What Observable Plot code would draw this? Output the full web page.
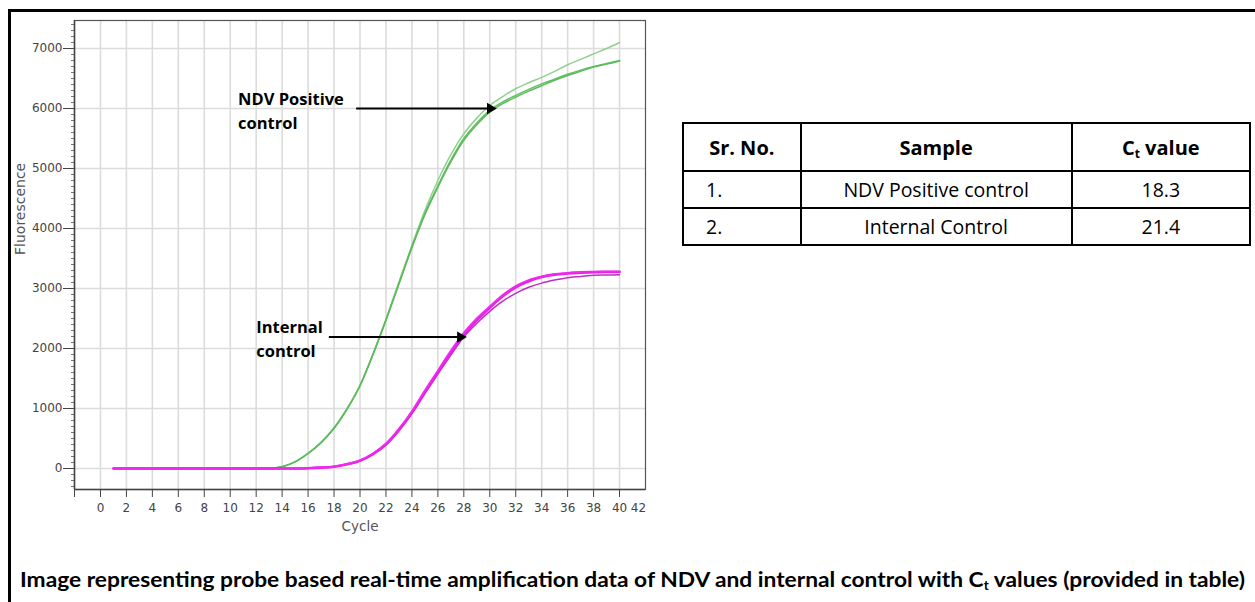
<!DOCTYPE html>
<html>
<head>
<meta charset="utf-8">
<script src="https://cdn.jsdelivr.net/npm/d3@7"></script>
<script src="https://cdn.jsdelivr.net/npm/@observablehq/plot@0.6"></script>
<style>
  html, body { margin: 0; padding: 0; background: #fff; }
  #wrap { position: relative; width: 1255px; height: 602px; overflow: hidden; background: #fff; }
  #chart { position: absolute; left: 0; top: 0; }
  #box { position: absolute; left: 8px; top: 9px; width: 1300px; height: 700px;
         border-top: 3px solid #000; border-left: 3px solid #000; pointer-events: none; }
  table#ct { position: absolute; left: 682px; top: 122px; width: 569px; border-collapse: collapse;
             font-family: "Open Sans", Lato, sans-serif; color: #000; }
  table#ct td, table#ct th { border: 2px solid #000; padding: 0; }
  table#ct th { font-weight: bold; font-size: 20px; height: 46px; text-align: center; }
  table#ct td { font-size: 19.5px; height: 35px; text-align: center; }
  table#ct td.sr { text-align: left; padding-left: 22px; }
  sub { font-size: 0.6em; vertical-align: -0.25em; line-height: 0; }
  #caption { position: absolute; left: 20px; top: 566px; white-space: nowrap; font-family: Lato, sans-serif;
             font-weight: bold; font-size: 21px; transform-origin: 0 0; color: #000; }
</style>
</head>
<body>
<div id="wrap">
  <div id="chart"></div>
  <table id="ct">
    <colgroup><col style="width:118px"><col style="width:272px"><col style="width:179px"></colgroup>
    <tbody id="tbody"></tbody>
  </table>
  <div id="caption"></div>
  <div id="box"></div>
</div>
<script>
// ---- data ----
const cycles = d3.range(1, 41);

const ndvRep1 = [0,0,0,0,0,0,0,0,0,0,0,0,0,30,110,250,430,670,990,1380,1900,2470,3080,3680,4230,4690,5110,5470,5730,5940,6080,6190,6290,6380,6470,6550,6620,6690,6740,6790];
const ndvRep2 = [0,0,0,0,0,0,0,0,0,0,0,0,0,30,110,250,430,670,990,1380,1900,2470,3080,3690,4250,4710,5140,5500,5760,5970,6110,6220,6320,6410,6490,6570,6640,6700,6750,6800];
const ndvRep3 = [0,0,0,0,0,0,0,0,0,0,0,0,0,30,115,255,440,680,1000,1390,1910,2490,3110,3720,4300,4800,5230,5580,5840,6050,6200,6330,6430,6520,6620,6730,6820,6910,7000,7100];

const icRep1 = [0,0,0,0,0,0,0,0,0,0,0,0,0,0,0,5,15,30,70,130,240,400,640,930,1270,1600,1930,2230,2470,2680,2870,3020,3120,3190,3230,3250,3265,3270,3275,3275];
const icRep2 = [0,0,0,0,0,0,0,0,0,0,0,0,0,0,0,5,15,32,75,135,250,415,660,955,1300,1630,1960,2260,2500,2700,2890,3040,3140,3200,3240,3260,3275,3280,3285,3285];
const icRep3 = [0,0,0,0,0,0,0,0,0,0,0,0,0,0,0,5,15,30,70,130,240,400,635,920,1250,1575,1890,2190,2420,2620,2790,2920,3020,3090,3140,3180,3200,3220,3225,3230];

const xTicks = d3.range(-2, 41, 2);
const yTicks = d3.range(0, 7001, 1000);
const yMinor = d3.range(-300, 7401, 100);

const annotations = [
  {label: "NDV Positive\ncontrol", tx: 10.6, ty: 5992, x1: 19.7, x2: 30.5, y: 6000},
  {label: "Internal\ncontrol",     tx: 12.0, ty: 2192, x1: 17.6, x2: 28.2, y: 2190}
];

const tableHead = ["Sr. No.", "Sample", "C<sub>t</sub> value"];
const tableSr = ["1.", "2."];
const tableSample = ["NDV Positive control", "Internal Control"];
const tableCt = ["18.3", "21.4"];

const captionText = "Image representing probe based real-time amplification data of NDV and internal control with C<sub>t</sub> values (provided in table)";

// ---- build rows ----
function rows(id, values) { return cycles.map((c, i) => ({id, cycle: c, f: values[i]})); }
const axisFont = "DejaVu Sans, Verdana, sans-serif";

const chart = Plot.plot({
  width: 1255,
  height: 540,
  marginLeft: 74,
  marginRight: 610,
  marginTop: 20,
  marginBottom: 51,
  style: {background: "transparent", fontFamily: axisFont},
  x: {domain: [-2, 42]},
  y: {domain: [-350, 7467]},
  marks: [
    Plot.gridX(d3.range(0, 41, 2), {stroke: "#dcdcdc", strokeOpacity: 1, strokeWidth: 1.6}),
    Plot.gridY(yTicks, {stroke: "#dcdcdc", strokeOpacity: 1, strokeWidth: 1.6}),
    Plot.axisY(yMinor, {tickSize: 3, fill: "none", stroke: "#777", label: null}),
    Plot.axisY(yTicks, {tickSize: 11, tickPadding: 1, tickFormat: d => String(d), fontSize: 12, fill: "#444", stroke: "#444", label: null}),
    Plot.axisX(xTicks, {tickSize: 8, tickPadding: 6, tickFormat: d => d < 0 ? "" : String(d), fontSize: 12, fill: "#444", stroke: "#444", label: null}),
    Plot.axisX([42], {tickSize: 0, tickPadding: 14, tickFormat: d => String(d), fontSize: 12, fill: "#444", dx: -7, label: null}),
    Plot.text(["Fluorescence"], {frameAnchor: "left", text: d => d, rotate: -90, dx: -54, fontSize: 14, fill: "#555"}),
    Plot.text(["Cycle"], {frameAnchor: "bottom", text: d => d, dy: 41, fontSize: 13.5, fill: "#555"}),
    Plot.frame({stroke: "#555", strokeWidth: 1.2}),
    Plot.ruleX([-2], {stroke: "#444", strokeWidth: 1.5}),
    Plot.ruleY([-350], {stroke: "#444", strokeWidth: 1.5}),
    Plot.line(rows("ndv3", ndvRep3), {x: "cycle", y: "f", stroke: "#8fd08f", strokeWidth: 1.5, curve: "catmull-rom"}),
    Plot.line(rows("ndv2", ndvRep2), {x: "cycle", y: "f", stroke: "#62c062", strokeWidth: 1.5, curve: "catmull-rom"}),
    Plot.line(rows("ndv1", ndvRep1), {x: "cycle", y: "f", stroke: "#5cba5c", strokeWidth: 1.5, curve: "catmull-rom"}),
    Plot.line(rows("ic3", icRep3), {x: "cycle", y: "f", stroke: "#c02cc8", strokeWidth: 1.5, curve: "catmull-rom"}),
    Plot.line(rows("ic1", icRep1), {x: "cycle", y: "f", stroke: "#e61ee6", strokeWidth: 2.6, curve: "catmull-rom"}),
    Plot.line(rows("ic2", icRep2), {x: "cycle", y: "f", stroke: "#ee2aee", strokeWidth: 2, curve: "catmull-rom"}),
    Plot.link(annotations, {x1: "x1", x2: d => d.x2 - 0.5, y1: "y", y2: "y", stroke: "#000", strokeWidth: 2}),
    Plot.dot(annotations, {x: "x2", y: "y", symbol: "triangle", rotate: 90, r: 4.2, fill: "#000", dx: -6}),
    Plot.text(annotations, {x: "tx", y: "ty", text: "label", textAnchor: "start", lineHeight: 1.5,
      fontFamily: "'Open Sans', sans-serif", fontWeight: "bold", fontSize: 16.5, fill: "#000"})
  ]
});
document.getElementById("chart").appendChild(chart);

// ---- table ----
const tbody = document.getElementById("tbody");
let html = "<tr>" + tableHead.map(h => `<th>${h}</th>`).join("") + "</tr>";
tableSr.forEach((s, i) => {
  html += `<tr><td class="sr">${s}</td><td>${tableSample[i]}</td><td>${tableCt[i]}</td></tr>`;
});
tbody.innerHTML = html;

// ---- caption ----
const cap = document.getElementById("caption");
cap.innerHTML = captionText;
function fit() {
  cap.style.transform = "none";
  const w = cap.getBoundingClientRect().width;
  cap.style.transform = `scaleX(${1225 / w})`;
}
fit();
if (document.fonts && document.fonts.ready) document.fonts.ready.then(fit);
</script>
</body>
</html>
